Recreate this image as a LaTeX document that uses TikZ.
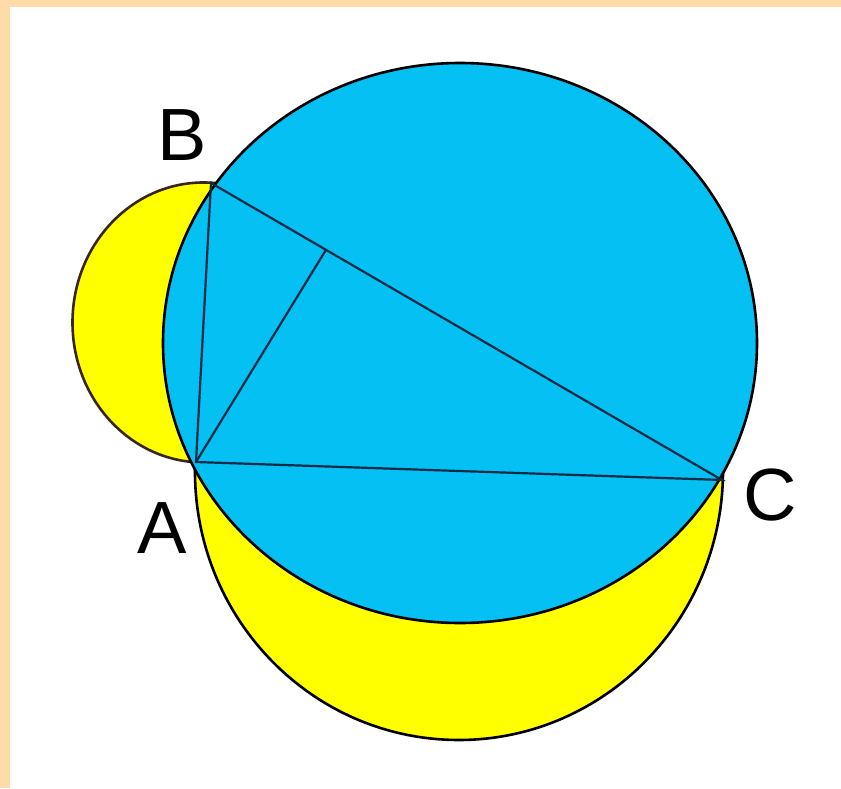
\documentclass[tikz,border=0pt]{standalone}
\usepackage{fontspec}
\setmainfont{Liberation Sans}
\usetikzlibrary{calc}
\definecolor{peach}{HTML}{FFDBA8}
\definecolor{lunecyan}{HTML}{05C0F2}
\definecolor{luneyellow}{HTML}{FFFF00}
\definecolor{edgenavy}{HTML}{0A2A45}
\tikzset{
  disc/.style={line width=2.6pt, draw=black},
  side/.style={line width=2.2pt, draw=edgenavy},
  vlabel/.style={font=\fontsize{74}{74}\selectfont, inner sep=0pt}
}
\begin{document}
\begin{tikzpicture}[x=1pt,y=1pt]
\useasboundingbox (0,0) rectangle (841,788);
\fill[peach] (0,0) rectangle (841,788);
\fill[white] (10,0) rectangle (841,781);
% points
\coordinate (A) at (196,326);
\coordinate (B) at (211,605);
\coordinate (C) at (722,308);
\coordinate (F) at ($(B)!0.225!(C)$);
% yellow semicircle discs
\draw[disc, draw=black!70!brown, fill=luneyellow] (203.5,465.5) ellipse [x radius=131, y radius=140];
\draw[disc, fill=luneyellow, rotate around={-2:(459,317)}] (459,317) ellipse [x radius=264, y radius=269];
% big circle
\draw[disc, fill=lunecyan] (460,445) ellipse [x radius=297, y radius=280];
% triangle and altitude
\draw[side] (A) -- (B) -- (C) -- cycle;
\draw[side] (A) -- (F);
% labels
\node[vlabel] (lB) at (182,653) {B};
\node[vlabel] (lA) at (162,260) {A};
\node[vlabel] (lC) at (770,293) {C};
\end{tikzpicture}
\end{document}
